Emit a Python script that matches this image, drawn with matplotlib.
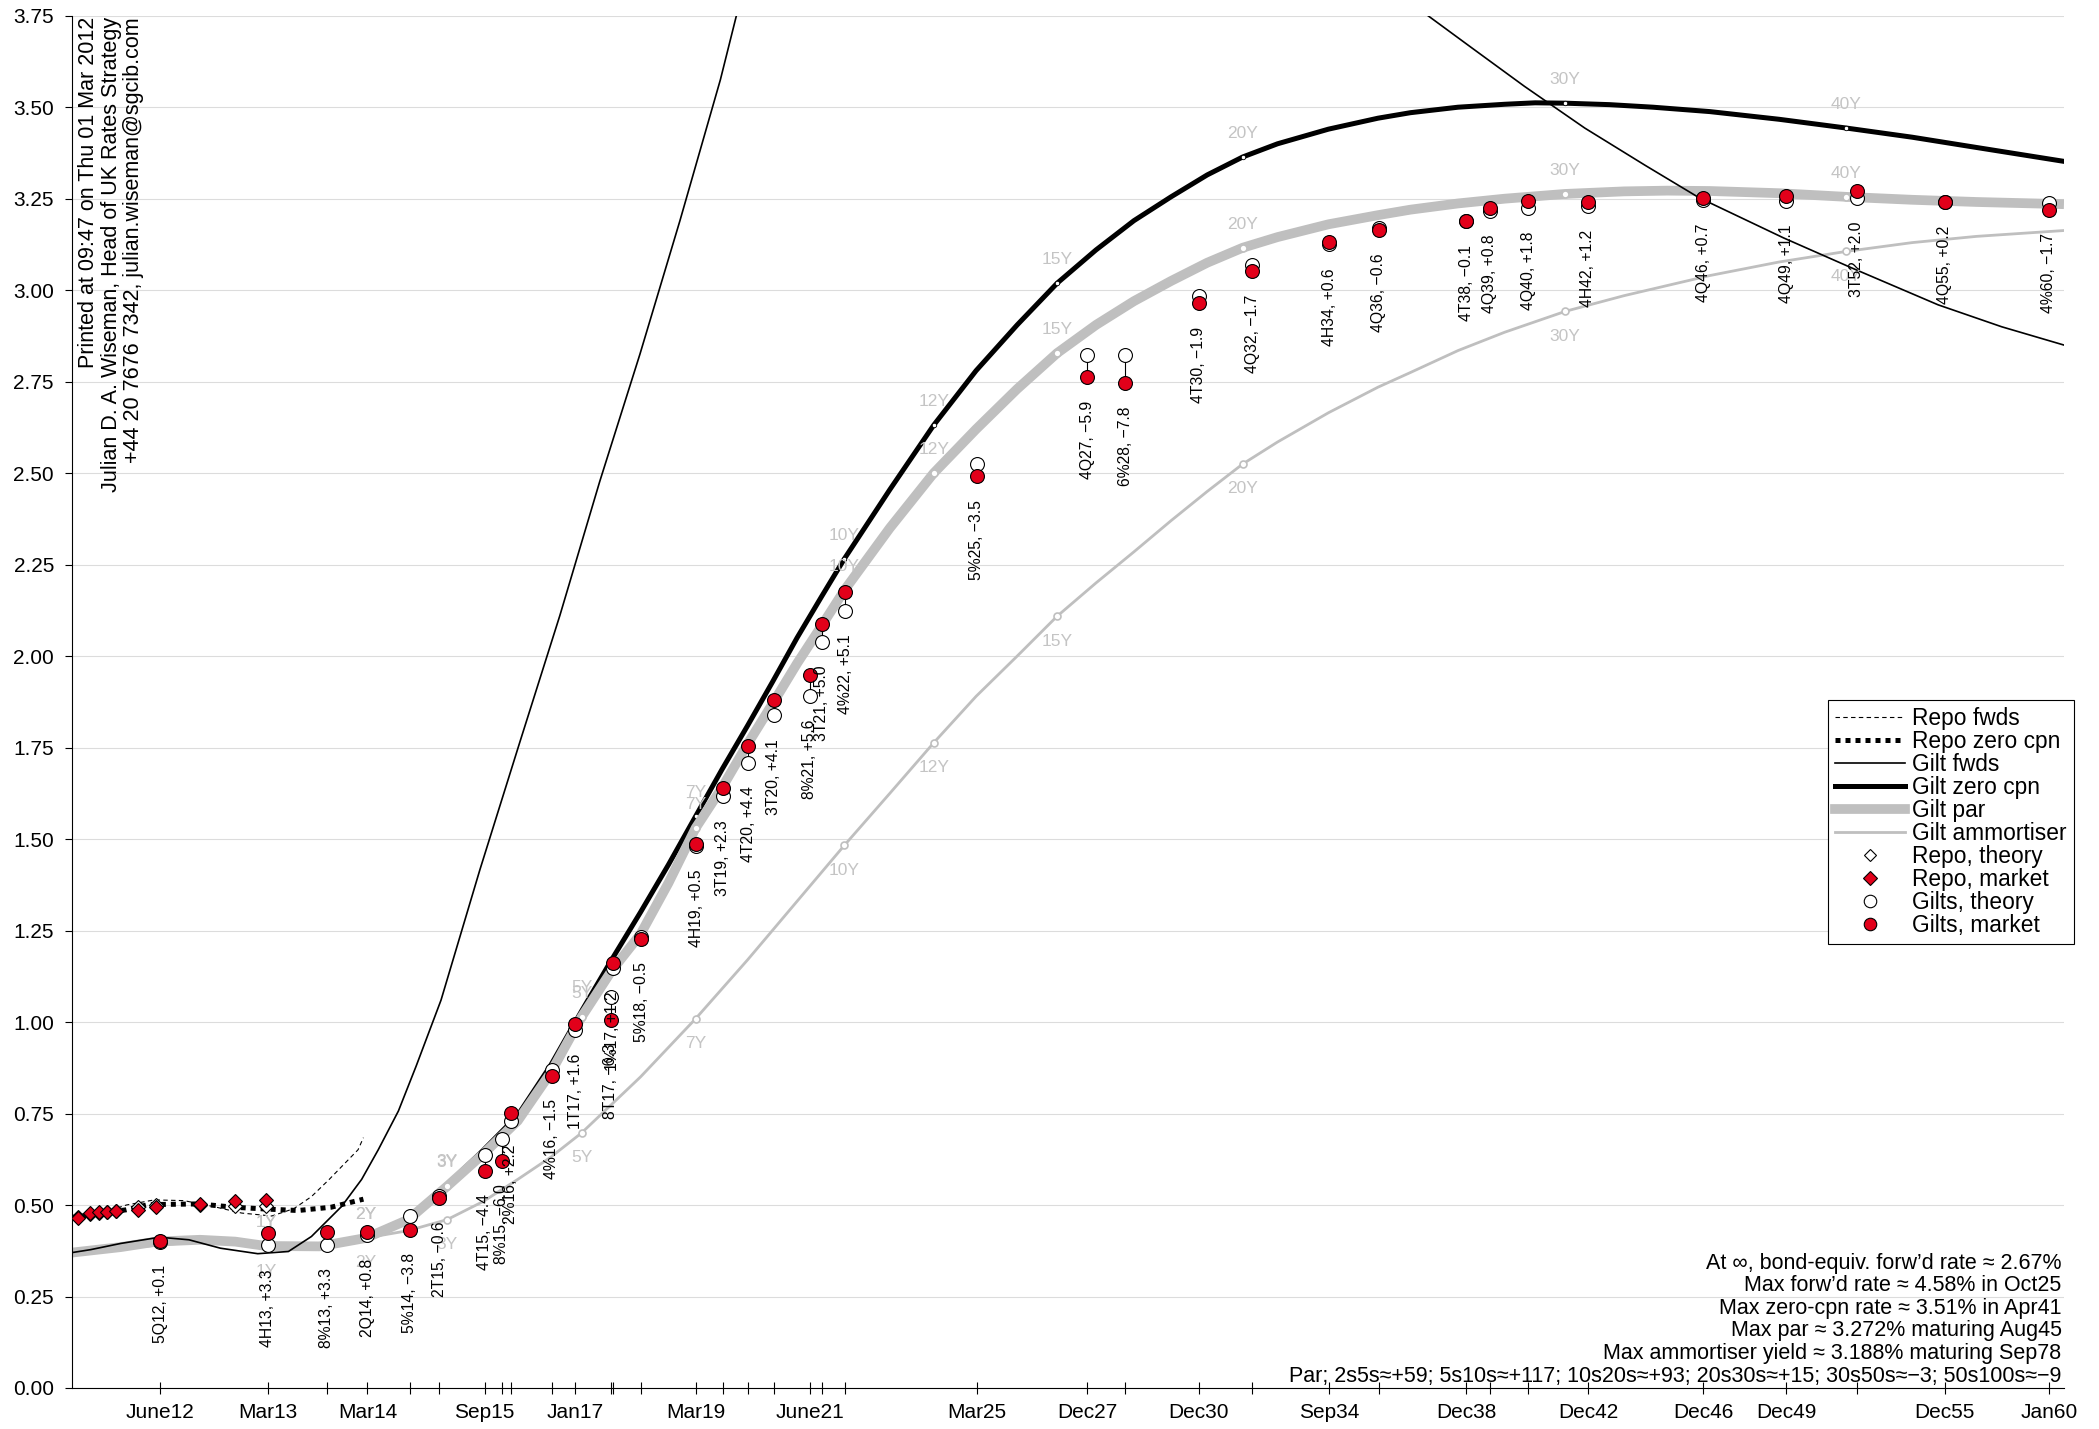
import numpy as np
import matplotlib
matplotlib.use("Agg")
import matplotlib.pyplot as plt
from matplotlib.lines import Line2D
from matplotlib.ticker import FormatStrFormatter

plt.rcParams["font.family"] = ["Liberation Sans", "DejaVu Sans"]

AS_OF = np.datetime64("2012-03-01")
RED = "#e2001a"
GREY = "#bfbfbf"
LABEL_GREY = "#c4c4c4"

# gilts: short name, maturity, market yield (%), market minus theory (bp)
bond_names = [
    "5Q12", "4H13", "8%13", "2Q14", "5%14", "2T15", "4T15", "8%15", "2%16", "4%16",
    "1T17", "8T17", "1%17", "5%18", "4H19", "3T19", "4T20", "3T20", "8%21", "3T21",
    "4%22", "5%25", "4Q27", "6%28", "4T30", "4Q32", "4H34", "4Q36", "4T38", "4Q39",
    "4Q40", "4H42", "4Q46", "4Q49", "3T52", "4Q55", "4%60",
]
bond_maturities = [
    "2012-06-07", "2013-03-07", "2013-09-27", "2014-03-07", "2014-09-07", "2015-01-22",
    "2015-09-07", "2015-12-07", "2016-01-22", "2016-09-07", "2017-01-22", "2017-08-25",
    "2017-09-07", "2018-03-07", "2019-03-07", "2019-09-07", "2020-03-07", "2020-09-07",
    "2021-06-07", "2021-09-07", "2022-03-07", "2025-03-07", "2027-12-07", "2028-12-07",
    "2030-12-07", "2032-06-07", "2034-09-07", "2036-03-07", "2038-12-07", "2039-09-07",
    "2040-12-07", "2042-12-07", "2046-12-07", "2049-12-07", "2052-07-22", "2055-12-07",
    "2060-01-22",
]
bond_market = [
    0.401, 0.423, 0.425, 0.425, 0.433, 0.519, 0.594, 0.621, 0.751, 0.853,
    0.995, 1.005, 1.161, 1.227, 1.487, 1.640, 1.753, 1.879, 1.948, 2.089,
    2.175, 2.491, 2.763, 2.746, 2.965, 3.052, 3.131, 3.164, 3.188, 3.225,
    3.243, 3.242, 3.253, 3.256, 3.271, 3.242, 3.220,
]
bond_spread_bp = [
    0.1, 3.3, 3.3, 0.8, -3.8, -0.6, -4.4, -6.0, 2.2, -1.5,
    1.6, -6.3, 1.2, -0.5, 0.5, 2.3, 4.4, 4.1, 5.6, 5.0,
    5.1, -3.5, -5.9, -7.8, -1.9, -1.7, 0.6, -0.6, -0.1, 0.8,
    1.8, 1.2, 0.7, 1.1, 2.0, 0.2, -1.7,
]

axis_labels = {
    "5Q12": "June12", "4H13": "Mar13", "2Q14": "Mar14", "4T15": "Sep15",
    "1T17": "Jan17", "4H19": "Mar19", "8%21": "June21", "5%25": "Mar25",
    "4Q27": "Dec27", "4T30": "Dec30", "4H34": "Sep34", "4T38": "Dec38",
    "4H42": "Dec42", "4Q46": "Dec46", "4Q49": "Dec49", "4Q55": "Dec55",
    "4%60": "Jan60",
}

# repo points (years to maturity)
repo_t = [0.003, 0.019, 0.038, 0.058, 0.083, 0.167, 0.25, 0.5, 0.75, 1.0]
repo_market = [0.464, 0.478, 0.480, 0.4815, 0.4834, 0.487, 0.494, 0.503, 0.510, 0.5145]
repo_theory = [0.466, 0.476, 0.479, 0.481, 0.483, 0.495, 0.499, 0.501, 0.497, 0.496]

repo_fwd_t = [0.0, 0.05, 0.12, 0.24, 0.4, 0.6, 0.8, 1.05, 1.25, 1.42, 1.6, 1.75, 1.91, 1.97]
repo_fwd_y = [0.466, 0.48, 0.50, 0.514, 0.512, 0.495, 0.478, 0.47, 0.49, 0.523, 0.57, 0.61, 0.651, 0.684]

repo_zero_t = [0.0, 0.12, 0.21, 0.49, 0.74, 1.0, 1.29, 1.62, 1.97]
repo_zero_y = [0.466, 0.487, 0.501, 0.503, 0.494, 0.489, 0.485, 0.494, 0.516]

# gilt curves (years to maturity, %)
gilt_fwd_t = [0.0, 0.02, 0.1, 0.266, 0.43, 0.64, 0.93, 1.2, 1.42, 1.73, 1.95, 2.14, 2.38, 2.6,
              2.92, 3.45, 4.03, 4.65, 5.3, 5.99, 6.71, 7.47, 7.78, 8.5, 10.0, 12.0, 13.6, 16.0,
              19.0, 22.0, 25.55, 26.91, 28.65, 30.66, 32.73, 34.61, 37.66, 40.16, 43.5, 46.0, 48.5]
gilt_fwd_y = [0.37, 0.378, 0.395, 0.412, 0.405, 0.382, 0.367, 0.373, 0.414, 0.496, 0.57, 0.651, 0.757, 0.88,
              1.06, 1.416, 1.764, 2.111, 2.477, 2.825, 3.19, 3.575, 3.75, 4.0, 4.35, 4.53, 4.58, 4.52,
              4.3, 4.0, 3.75, 3.664, 3.557, 3.443, 3.341, 3.253, 3.143, 3.062, 2.96, 2.90, 2.85]

gilt_zero_t = [0.0, 0.25, 0.5, 0.75, 1.0, 1.5, 2.0, 2.5, 3.0, 3.5, 4.0, 4.5, 5.0, 5.5, 6.0,
               6.5, 7.0, 7.5, 8.0, 8.5, 9.0, 9.5, 10.0, 11.0, 12.0, 13.0, 14.0, 15.0, 16.0,
               17.0, 18.0, 19.0, 20.0, 21.0, 22.5, 24.0, 25.0, 26.5, 28.0, 29.0, 30.0, 31.5,
               33.0, 35.0, 37.5, 40.0, 42.5, 45.0, 48.5]
gilt_zero_y = [0.37, 0.40, 0.405, 0.40, 0.388, 0.386, 0.41, 0.46, 0.555, 0.65, 0.745, 0.88, 1.03, 1.17, 1.30,
               1.43, 1.562, 1.69, 1.81, 1.93, 2.05, 2.16, 2.266, 2.455, 2.631, 2.78, 2.905, 3.019, 3.11,
               3.19, 3.255, 3.315, 3.364, 3.40, 3.44, 3.47, 3.485, 3.50, 3.508, 3.512, 3.511, 3.507,
               3.50, 3.488, 3.467, 3.443, 3.418, 3.39, 3.352]

gilt_par_t = [0.0, 0.1, 0.25, 0.5, 0.75, 1.0, 1.5, 2.0, 2.5, 3.0, 3.5, 4.0, 4.5, 5.0, 5.5,
              6.0, 6.5, 7.0, 7.5, 8.0, 8.5, 9.0, 9.5, 10.0, 11.0, 12.0, 13.0, 14.0, 15.0,
              16.0, 17.0, 18.0, 19.0, 20.0, 21.0, 22.5, 24.0, 25.0, 26.5, 28.0, 30.0, 32.0,
              33.5, 35.0, 37.5, 40.0, 42.5, 45.0, 48.5]
gilt_par_y = [0.37, 0.385, 0.40, 0.405, 0.40, 0.388, 0.387, 0.41, 0.46, 0.551, 0.64, 0.73, 0.86, 1.014, 1.14,
              1.24, 1.38, 1.53, 1.64, 1.76, 1.87, 1.98, 2.08, 2.18, 2.35, 2.50, 2.62, 2.73, 2.828,
              2.905, 2.97, 3.025, 3.075, 3.116, 3.145, 3.18, 3.205, 3.22, 3.237, 3.25, 3.263, 3.27,
              3.272, 3.271, 3.265, 3.255, 3.247, 3.241, 3.235]

gilt_amort_t = [0.0, 0.5, 1.0, 1.5, 2.0, 2.5, 3.0, 3.5, 4.0, 4.5, 5.0, 6.0, 7.0, 8.0, 9.0,
                10.0, 11.0, 12.0, 13.0, 14.0, 15.0, 16.0, 17.0, 18.0, 19.0, 20.0, 21.0, 22.5,
                24.0, 25.0, 26.5, 28.0, 30.0, 32.0, 35.0, 37.5, 40.0, 42.5, 45.0, 48.5]
gilt_amort_y = [0.37, 0.40, 0.388, 0.39, 0.41, 0.43, 0.46, 0.51, 0.57, 0.63, 0.697, 0.85, 1.009, 1.17, 1.33,
                1.483, 1.625, 1.763, 1.89, 2.00, 2.109, 2.20, 2.285, 2.37, 2.45, 2.525, 2.585, 2.665,
                2.735, 2.775, 2.835, 2.885, 2.942, 2.985, 3.04, 3.077, 3.106, 3.13, 3.147, 3.163]

year_marks = [1, 2, 3, 5, 7, 10, 12, 15, 20, 30, 40]
zero_at_years = [0.388, 0.41, 0.555, 1.03, 1.562, 2.266, 2.631, 3.019, 3.364, 3.511, 3.443]
par_at_years = [0.388, 0.41, 0.551, 1.014, 1.53, 2.18, 2.50, 2.828, 3.116, 3.263, 3.255]
amort_at_years = [0.388, 0.41, 0.46, 0.697, 1.009, 1.483, 1.763, 2.109, 2.525, 2.942, 3.106]

notes = [
    "At \u221e, bond-equiv. forw\u2019d rate \u2248 2.67%",
    "Max forw\u2019d rate \u2248 4.58% in Oct25",
    "Max zero-cpn rate \u2248 3.51% in Apr41",
    "Max par \u2248 3.272% maturing Aug45",
    "Max ammortiser yield \u2248 3.188% maturing Sep78",
    "Par; 2s5s\u2248+59; 5s10s\u2248+117; 10s20s\u2248+93; 20s30s\u2248+15; 30s50s\u2248\u22123; 50s100s\u2248\u22129",
]
byline = [
    "Printed at 09:47 on Thu 01 Mar 2012",
    "Julian D. A. Wiseman, Head of UK Rates Strategy",
    "+44 20 7676 7342, julian.wiseman@sgcib.com",
]

LW_FWD, LW_ZERO, LW_PAR, LW_AMORT = 1.2, 3.6, 7.0, 2.0


def _fwd(t):
    t = np.asarray(t, dtype=float)
    return np.sign(t) * np.abs(t) ** 0.6


def _inv(u):
    u = np.asarray(u, dtype=float)
    return np.sign(u) * np.abs(u) ** (1 / 0.6)


def _fmt_bp(v):
    return f"{v:+.1f}".replace("-", "\u2212")


def draw_curves(ax):
    ax.plot(gilt_amort_t, gilt_amort_y, color=GREY, lw=LW_AMORT, zorder=2)
    ax.plot(gilt_zero_t, gilt_zero_y, color="black", lw=LW_ZERO, zorder=2.2)
    ax.plot(gilt_par_t, gilt_par_y, color=GREY, lw=LW_PAR, zorder=2.4, solid_capstyle="butt")
    ax.plot(gilt_fwd_t, gilt_fwd_y, color="black", lw=LW_FWD, zorder=2.6)
    ax.plot(repo_fwd_t, repo_fwd_y, color="black", lw=0.8, ls=(0, (4, 3)), zorder=2.6)
    ax.plot(repo_zero_t, repo_zero_y, color="black", lw=3.6, ls=(0, (1, 1)), zorder=2.7)

    # year markers and labels on the three gilt curves
    ax.plot(year_marks, amort_at_years, ls="none", marker="o", ms=5, mfc="white", mec=GREY, mew=1.2, zorder=2.1)
    ax.plot(year_marks, zero_at_years, ls="none", marker="o", ms=3.2, mfc="white", mec="black", mew=0.6, zorder=2.3)
    ax.plot(year_marks, par_at_years, ls="none", marker="o", ms=5, mfc="white", mec=GREY, mew=1.2, zorder=2.5)
    for yr, z, p, a in zip(year_marks, zero_at_years, par_at_years, amort_at_years):
        for val, dy in ((z, 17), (p, 17), (a, -18)):
            ax.annotate(f"{yr}Y", xy=(yr, val), xytext=(0, dy), textcoords="offset points",
                        ha="center", va="center", fontsize=12.5, color=LABEL_GREY, zorder=2.8)


def draw_points(ax, bond_t):
    market = np.array(bond_market)
    theory = market - np.array(bond_spread_bp) / 100.0

    ax.vlines(bond_t, np.minimum(theory, market), np.maximum(theory, market), color="black", lw=0.8, zorder=3)
    ax.plot(repo_t, repo_theory, ls="none", marker="D", ms=7, mfc="white", mec="black", mew=0.8, zorder=3.1)
    ax.plot(repo_t, repo_market, ls="none", marker="D", ms=7, mfc=RED, mec="black", mew=0.8, zorder=3.2)
    ax.plot(bond_t, theory, ls="none", marker="o", ms=10, mfc="white", mec="black", mew=0.8, zorder=3.3)
    ax.plot(bond_t, market, ls="none", marker="o", ms=10, mfc=RED, mec="black", mew=0.8, zorder=3.4)

    for name, t, lo, bp in zip(bond_names, bond_t, np.minimum(theory, market), bond_spread_bp):
        ax.annotate(f"{name}, {_fmt_bp(bp)}", xy=(t, lo), xytext=(0, -17), textcoords="offset points",
                    rotation=90, ha="center", va="top", fontsize=11.3, zorder=4)


def legend_handles():
    return [
        Line2D([], [], color="black", lw=0.8, ls=(0, (4, 3)), label="Repo fwds"),
        Line2D([], [], color="black", lw=3.6, ls=(0, (1, 1)), label="Repo zero cpn"),
        Line2D([], [], color="black", lw=LW_FWD, label="Gilt fwds"),
        Line2D([], [], color="black", lw=LW_ZERO, label="Gilt zero cpn"),
        Line2D([], [], color=GREY, lw=LW_PAR, label="Gilt par"),
        Line2D([], [], color=GREY, lw=LW_AMORT, label="Gilt ammortiser"),
        Line2D([], [], ls="none", marker="D", ms=6, mfc="white", mec="black", mew=0.8, label="Repo, theory"),
        Line2D([], [], ls="none", marker="D", ms=7, mfc=RED, mec="black", mew=0.8, label="Repo, market"),
        Line2D([], [], ls="none", marker="o", ms=9, mfc="white", mec="black", mew=0.8, label="Gilts, theory"),
        Line2D([], [], ls="none", marker="o", ms=9, mfc=RED, mec="black", mew=0.8, label="Gilts, market"),
    ]


def main():
    bond_t = (np.array(bond_maturities, dtype="datetime64[D]") - AS_OF).astype(float) / 365.25

    fig = plt.figure(figsize=(20.99, 14.29), dpi=100)
    ax = fig.add_axes([0.0343, 0.0287, 0.9490, 0.9603])
    ax.set_xscale("function", functions=(_fwd, _inv))
    ax.set_xlim(0, 48.5)
    ax.set_ylim(0, 3.75)

    draw_curves(ax)
    draw_points(ax, bond_t)

    # axes cosmetics
    for side in ("top", "right"):
        ax.spines[side].set_visible(False)
    for side in ("left", "bottom"):
        ax.spines[side].set_linewidth(0.8)
    ax.set_yticks(np.arange(0, 3.76, 0.25))
    ax.yaxis.set_major_formatter(FormatStrFormatter("%.2f"))
    ax.yaxis.grid(True, color="#dcdcdc", lw=0.8)
    ax.set_axisbelow(True)
    ax.tick_params(axis="y", direction="out", length=5, width=0.8, pad=8, labelsize=15)

    major = [t for n, t in zip(bond_names, bond_t) if n in axis_labels]
    minor = [t for n, t in zip(bond_names, bond_t) if n not in axis_labels]
    ax.set_xticks(major)
    ax.set_xticklabels([axis_labels[n] for n in bond_names if n in axis_labels])
    ax.set_xticks(minor, minor=True)
    ax.tick_params(axis="x", which="both", direction="inout", length=8, width=0.8, pad=7, labelsize=15)

    ax.text(0.003, 0.999, "\n".join(byline), transform=ax.transAxes, rotation=90,
            ha="left", va="top", multialignment="right", fontsize=15.5, linespacing=1.1)
    ax.text(0.9988, 0.001, "\n".join(notes), transform=ax.transAxes,
            ha="right", va="bottom", multialignment="right", fontsize=15.5, linespacing=1.1)

    leg = ax.legend(handles=legend_handles(), loc="upper left", bbox_to_anchor=(0.8709, 0.5101),
                    bbox_transform=fig.transFigure, borderaxespad=0, fontsize=16.4, labelspacing=0.0,
                    handlelength=3.1, handletextpad=0.3, borderpad=0.3, fancybox=False,
                    framealpha=1, edgecolor="black")
    leg.get_frame().set_linewidth(0.8)
    leg.set_zorder(5)

    fig.savefig("out.png", dpi=100)


if __name__ == "__main__":
    main()
